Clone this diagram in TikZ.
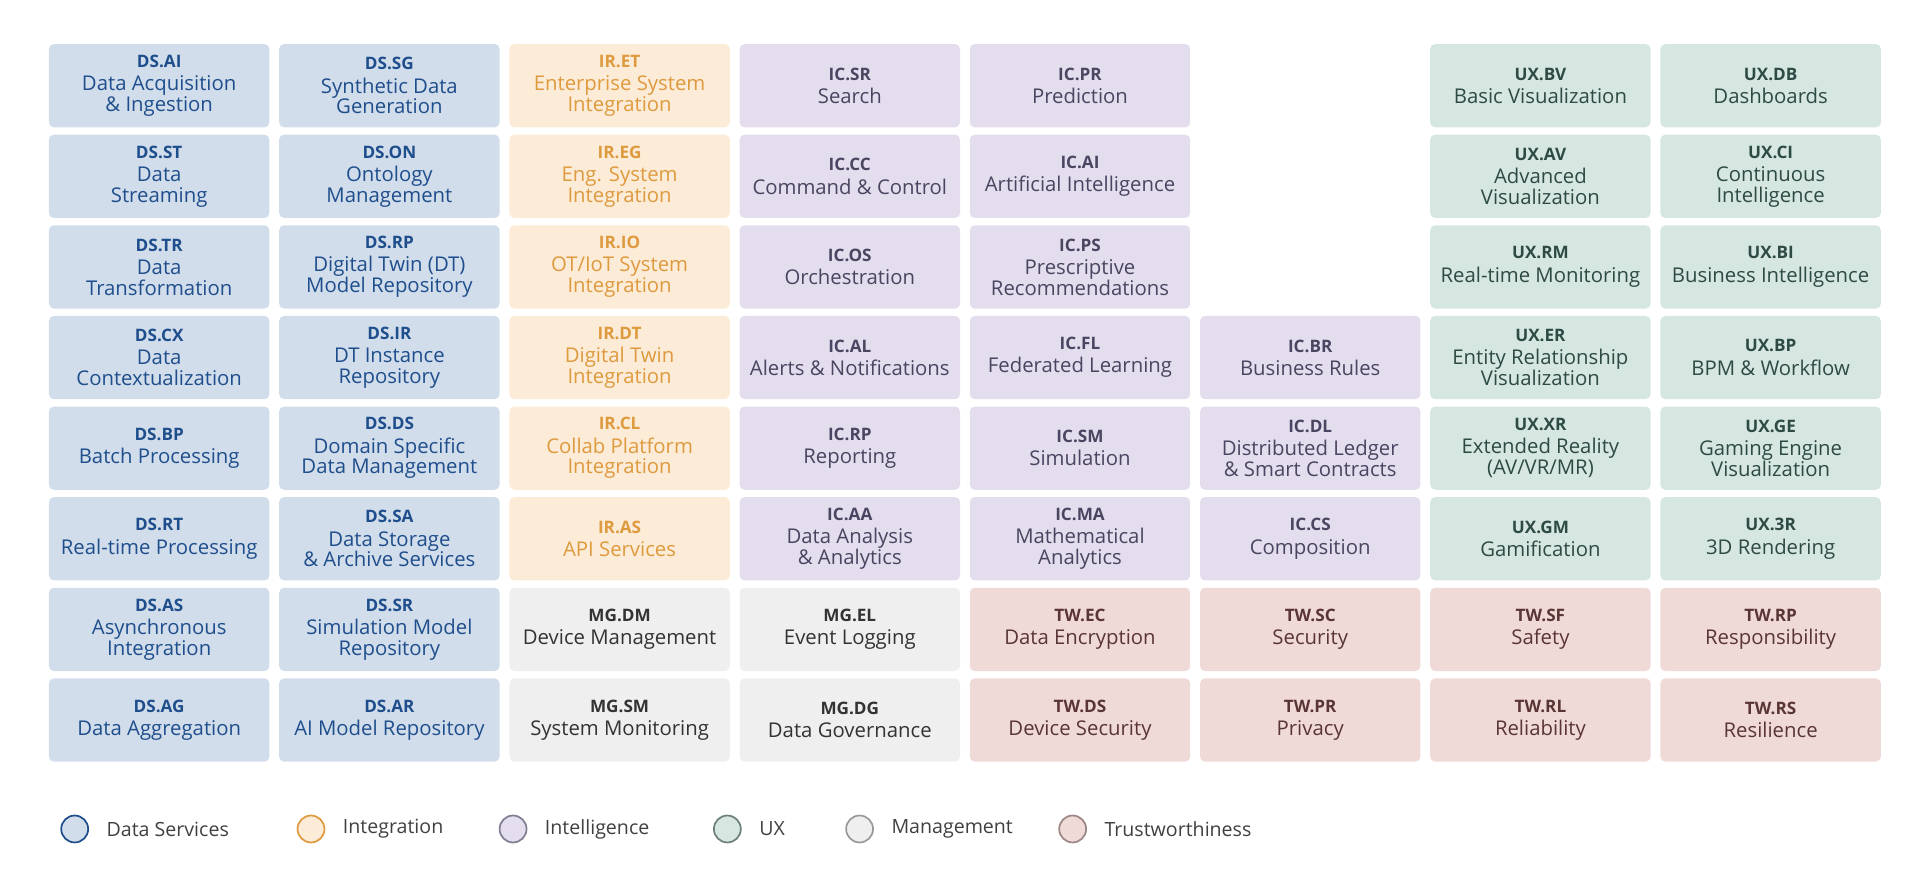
\documentclass[tikz,border=0pt]{standalone}
\usepackage{fontspec}
\setmainfont{Open Sans}
\definecolor{dsF}{HTML}{D1DDEB}\definecolor{dsT}{HTML}{1F4E8C}
\definecolor{irF}{HTML}{FCEBD6}\definecolor{irT}{HTML}{DE9A3E}
\definecolor{icF}{HTML}{E3DDEE}\definecolor{icT}{HTML}{4A4560}
\definecolor{uxF}{HTML}{D6E6E1}\definecolor{uxT}{HTML}{2E4A45}
\definecolor{mgF}{HTML}{EFEFEF}\definecolor{mgT}{HTML}{333333}
\definecolor{twF}{HTML}{EFDAD7}\definecolor{twT}{HTML}{5A3535}
\tikzset{cellbox/.style={rounded corners=2pt,minimum width=90pt,minimum height=34pt,inner sep=0pt,align=center,font=\fontsize{8.3}{8.5}\selectfont},
ds/.style={cellbox,fill=dsF,text=dsT},ir/.style={cellbox,fill=irF,text=irT},
ic/.style={cellbox,fill=icF,text=icT},ux/.style={cellbox,fill=uxF,text=uxT},
mg/.style={cellbox,fill=mgF,text=mgT},tw/.style={cellbox,fill=twF,text=twT},
legdot/.style={circle,minimum size=11pt,inner sep=0pt,line width=0.7pt},
legtxt/.style={anchor=west,text=black!75,font=\fontsize{8}{9}\selectfont}}
\newcommand{\cell}[5]{\node[#3] (c#1#2) at ({130+(#1-1)*188},{70+(#2-1)*74}) {{\bfseries\fontsize{7}{9}\selectfont #4}\\[1pt]#5};}
\begin{document}
\begin{tikzpicture}[x=0.5pt,y=-0.5pt]
\useasboundingbox (0,0) rectangle (1568,717);
\cell{1}{1}{ds}{DS.AI}{Data Acquisition\\\& Ingestion}
\cell{1}{2}{ds}{DS.ST}{Data\\Streaming}
\cell{1}{3}{ds}{DS.TR}{Data\\Transformation}
\cell{1}{4}{ds}{DS.CX}{Data\\Contextualization}
\cell{1}{5}{ds}{DS.BP}{Batch Processing}
\cell{1}{6}{ds}{DS.RT}{Real-time Processing}
\cell{1}{7}{ds}{DS.AS}{Asynchronous\\Integration}
\cell{1}{8}{ds}{DS.AG}{Data Aggregation}
\cell{2}{1}{ds}{DS.SG}{Synthetic Data\\Generation}
\cell{2}{2}{ds}{DS.ON}{Ontology\\Management}
\cell{2}{3}{ds}{DS.RP}{Digital Twin (DT)\\Model Repository}
\cell{2}{4}{ds}{DS.IR}{DT Instance\\Repository}
\cell{2}{5}{ds}{DS.DS}{Domain Specific\\Data Management}
\cell{2}{6}{ds}{DS.SA}{Data Storage\\\& Archive Services}
\cell{2}{7}{ds}{DS.SR}{Simulation Model\\Repository}
\cell{2}{8}{ds}{DS.AR}{AI Model Repository}
\cell{3}{1}{ir}{IR.ET}{Enterprise System\\Integration}
\cell{3}{2}{ir}{IR.EG}{Eng. System\\Integration}
\cell{3}{3}{ir}{IR.IO}{OT/IoT System\\Integration}
\cell{3}{4}{ir}{IR.DT}{Digital Twin\\Integration}
\cell{3}{5}{ir}{IR.CL}{Collab Platform\\Integration}
\cell{3}{6}{ir}{IR.AS}{API Services}
\cell{3}{7}{mg}{MG.DM}{Device Management}
\cell{3}{8}{mg}{MG.SM}{System Monitoring}
\cell{4}{1}{ic}{IC.SR}{Search}
\cell{4}{2}{ic}{IC.CC}{Command \& Control}
\cell{4}{3}{ic}{IC.OS}{Orchestration}
\cell{4}{4}{ic}{IC.AL}{Alerts \& Notifications}
\cell{4}{5}{ic}{IC.RP}{Reporting}
\cell{4}{6}{ic}{IC.AA}{Data Analysis\\\& Analytics}
\cell{4}{7}{mg}{MG.EL}{Event Logging}
\cell{4}{8}{mg}{MG.DG}{Data Governance}
\cell{5}{1}{ic}{IC.PR}{Prediction}
\cell{5}{2}{ic}{IC.AI}{Artificial Intelligence}
\cell{5}{3}{ic}{IC.PS}{Prescriptive\\Recommendations}
\cell{5}{4}{ic}{IC.FL}{Federated Learning}
\cell{5}{5}{ic}{IC.SM}{Simulation}
\cell{5}{6}{ic}{IC.MA}{Mathematical\\Analytics}
\cell{5}{7}{tw}{TW.EC}{Data Encryption}
\cell{5}{8}{tw}{TW.DS}{Device Security}
\cell{6}{4}{ic}{IC.BR}{Business Rules}
\cell{6}{5}{ic}{IC.DL}{Distributed Ledger\\\& Smart Contracts}
\cell{6}{6}{ic}{IC.CS}{Composition}
\cell{6}{7}{tw}{TW.SC}{Security}
\cell{6}{8}{tw}{TW.PR}{Privacy}
\cell{7}{1}{ux}{UX.BV}{Basic Visualization}
\cell{7}{2}{ux}{UX.AV}{Advanced\\Visualization}
\cell{7}{3}{ux}{UX.RM}{Real-time Monitoring}
\cell{7}{4}{ux}{UX.ER}{Entity Relationship\\Visualization}
\cell{7}{5}{ux}{UX.XR}{Extended Reality\\(AV/VR/MR)}
\cell{7}{6}{ux}{UX.GM}{Gamification}
\cell{7}{7}{tw}{TW.SF}{Safety}
\cell{7}{8}{tw}{TW.RL}{Reliability}
\cell{8}{1}{ux}{UX.DB}{Dashboards}
\cell{8}{2}{ux}{UX.CI}{Continuous\\Intelligence}
\cell{8}{3}{ux}{UX.BI}{Business Intelligence}
\cell{8}{4}{ux}{UX.BP}{BPM \& Workflow}
\cell{8}{5}{ux}{UX.GE}{Gaming Engine\\Visualization}
\cell{8}{6}{ux}{UX.3R}{3D Rendering}
\cell{8}{7}{tw}{TW.RP}{Responsibility}
\cell{8}{8}{tw}{TW.RS}{Resilience}
% legend
\node[legdot,fill=dsF,draw=dsT] (l1) at (61,677) {};
\node[legtxt] at (80,677) {Data Services};
\node[legdot,fill=irF,draw=irT] (l2) at (254,677) {};
\node[legtxt] at (273,677) {Integration};
\node[legdot,fill=icF,draw=icT!70] (l3) at (419,677) {};
\node[legtxt] at (438,677) {Intelligence};
\node[legdot,fill=uxF,draw=uxT!70] (l4) at (594,677) {};
\node[legtxt] at (613,677) {UX};
\node[legdot,fill=mgF,draw=mgT!50] (l5) at (702,677) {};
\node[legtxt] at (721,677) {Management};
\node[legdot,fill=twF,draw=twT!60] (l6) at (876,677) {};
\node[legtxt] at (895,677) {Trustworthiness};
\end{tikzpicture}
\end{document}
